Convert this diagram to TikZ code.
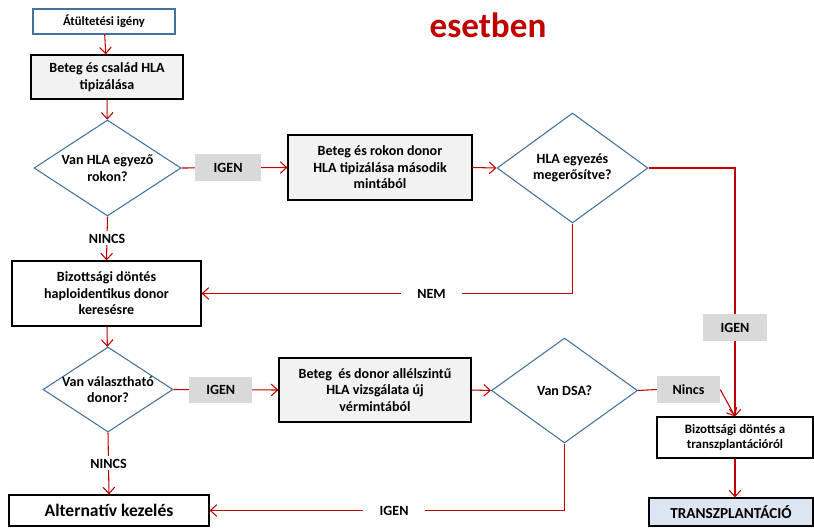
\documentclass[tikz,border=0pt]{standalone}
\usepackage{fontspec}
\setmainfont{Carlito}
\usetikzlibrary{positioning,shapes.geometric,arrows.meta}
\definecolor{arrowred}{HTML}{C00000}
\definecolor{diablue}{HTML}{41719C}
\definecolor{boxgray}{HTML}{F2F2F2}
\definecolor{labelgray}{HTML}{D9D9D9}
\definecolor{paleblue}{HTML}{DCE6F2}

\begin{document}
\begin{tikzpicture}[x=0.03cm,y=-0.03cm,
    every node/.style={font=\bfseries\fontsize{12}{14}\selectfont, align=center},
    box/.style={draw=black, line width=1pt, inner sep=2pt},
    graybox/.style={box, fill=boxgray},
    decision/.style={diamond, draw=diablue, line width=0.9pt, inner sep=0pt, aspect=1.5},
    answer/.style={fill=labelgray, inner sep=0pt},
    flow/.style={draw=arrowred, line width=0.9pt},
    arrow/.style={flow, -{Straight Barb[length=5.5pt,width=10pt]}},
    cutlabel/.style={fill=white, inner xsep=14pt, inner ysep=2pt}]
    \useasboundingbox (0,0) rectangle (814,528);

    % Title
    \node[text=arrowred, font=\bfseries\fontsize{30}{32}\selectfont] (title) at (488,25) {esetben};

    % Left column
    \node[box, draw=diablue, minimum width=4.26cm, minimum height=0.75cm, font=\bfseries\fontsize{10.8}{12}\selectfont] (b1) at (104,21.5) {Átültetési igény};
    \node[graybox, minimum width=4.56cm, minimum height=1.32cm] (b2) at (107,77) {Beteg és család HLA\\tipizálása};
    \node[decision, minimum width=4.41cm, minimum height=2.88cm] (d1) at (107.5,168) {Van HLA egyező\\rokon?};
    \node[box, minimum width=5.67cm, minimum height=1.95cm] (b4) at (106.5,293.5) {Bizottsági döntés\\haploidentikus donor\\keresésre};
    \node[decision, inner sep=-3pt, minimum width=3.9cm, minimum height=2.55cm] (d3) at (108,389.5) {Van választható\\donor?};
    \node[box, minimum width=6cm, minimum height=0.93cm, font=\bfseries\fontsize{15}{17}\selectfont] (b8) at (109,510.5) {Alternatív kezelés};

    % Middle column
    \node[graybox, minimum width=5.52cm, minimum height=1.95cm] (b3) at (380,167.5) {Beteg és rokon donor\\HLA tipizálása második\\mintából};
    \node[decision, minimum width=4.53cm, minimum height=3.3cm] (d2) at (572.5,168) {HLA egyezés\\megerősítve?};
    \node[graybox, minimum width=5.76cm, minimum height=1.92cm] (b5) at (375,390) {Beteg~ és donor allélszintű\\HLA vizsgálata új\\vérmintából};
    \node[decision, minimum width=4.38cm, minimum height=3.15cm] (d4) at (564.5,390.5) {Van DSA?};

    % Right column
    \node[answer, minimum width=1.92cm, minimum height=0.81cm] (igen3) at (735,327.5) {IGEN};
    \node[answer, minimum width=1.89cm, minimum height=0.81cm] (nincs) at (688.5,389.5) {Nincs};
    \node[box, minimum width=4.68cm, minimum height=1.23cm, font=\bfseries\fontsize{11}{13}\selectfont] (b6) at (735,437.5) {Bizottsági döntés a\\transzplantációról};
    \node[box, fill=paleblue, minimum width=4.92cm, minimum height=0.84cm, font=\bfseries\fontsize{13}{15}\selectfont] (b7) at (731,512) {TRANSZPLANTÁCIÓ};

    % Connectors
    \draw[arrow] (b1) -- (b2);
    \draw[arrow] (b2) -- (d1);
    \draw[arrow] (d1.east) -- node[answer, minimum width=1.98cm, minimum height=0.81cm, pos=0.44] (igen1) {IGEN} (b3.west);
    \draw[arrow] (b3.east) -- (d2.west);
    \draw[arrow] (d1.south) -- node[cutlabel, inner xsep=4pt] (nincs1) {NINCS} (b4.north);
    \draw[arrow] (d2.south) |- node[cutlabel, pos=0.69] (nem) {NEM} (b4.east);
    \draw[arrow] (d2.east) -| (b6.north);
    \draw[arrow] (b4) -- (d3);
    \draw[arrow] (d3.east) -- node[answer, minimum width=1.89cm, minimum height=0.78cm, pos=0.45] (igen2) {IGEN} (b5.west);
    \draw[arrow] (b5.east) -- (d4.west);
    \draw[flow] (d4.east) -- (nincs.west);
    \draw[arrow] (nincs.east) -- (b6.north);
    \draw[arrow] (d3.south) -- node[cutlabel, inner xsep=4pt] (nincs2) {NINCS} (b8.north);
    \draw[arrow] (d4.south) |- node[cutlabel, pos=0.74] (igen4) {IGEN} (b8.east);
    \draw[arrow] (b6.south) -- (b6.south |- b7.north);
    % IGEN label sits on the right-hand line
    \node[answer, minimum width=1.92cm, minimum height=0.81cm] at (igen3) {IGEN};
\end{tikzpicture}
\end{document}
